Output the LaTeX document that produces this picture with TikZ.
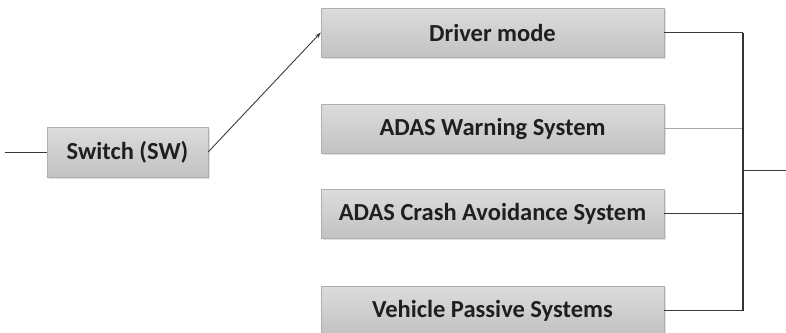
\documentclass[tikz,border=0pt]{standalone}
\usepackage{fontspec}
\setmainfont{Carlito}
\usetikzlibrary{shadows,arrows.meta}
\definecolor{boxtop}{HTML}{DCDCDC}
\definecolor{boxbot}{HTML}{C2C2C2}
\definecolor{linecol}{HTML}{3A3A3A}
\definecolor{lightline}{HTML}{A8A8A8}
\tikzset{
  blk/.style={rectangle, minimum height=49pt, inner sep=0pt, draw=boxbot!90!black, line width=0.3pt,
    top color=boxtop, bottom color=boxbot, font=\bfseries\fontsize{24.5}{27}\selectfont, text=black!88,
    drop shadow={shadow xshift=1.5pt, shadow yshift=-1.5pt, fill=black, opacity=0.12}},
  conn/.style={draw=linecol, line width=0.9pt},
  bus/.style={draw=black!80, line width=1.6pt},
}
\begin{document}
\begin{tikzpicture}[x=1pt,y=-1pt]
\useasboundingbox (0,0) rectangle (786,332);
\begin{scope}
\clip (0,0) rectangle (786,332);
\node[blk, minimum width=161pt, minimum height=50pt] (sw) at (127.5,152) {Switch (SW)};
\node[blk, minimum width=343pt] (dm) at (492.5,32.5) {Driver mode};
\node[blk, minimum width=343pt] (aw) at (492.5,128.5) {ADAS Warning System};
\node[blk, minimum width=343pt] (ac) at (492.5,213.5) {ADAS Crash Avoidance System};
\node[blk, minimum width=343pt] (vp) at (492.5,310.5) {Vehicle Passive Systems};
\coordinate (in) at (5,152);
\coordinate (bt) at (743,32.5);
\coordinate (bb) at (743,310.5);
\coordinate (bo) at (743,170);
\coordinate (out) at (786,170);
\draw[conn] (in) -- (sw.west);
\draw[conn, -{Stealth[length=6pt,width=4pt]}] (sw.east) -- (dm.west);
\draw[conn] (dm.east) -- (bt);
\draw[draw=lightline, line width=0.9pt] (aw.east) -- (aw.east -| bt);
\draw[conn] (ac.east) -- (ac.east -| bt);
\draw[conn] (vp.east) -- (bb);
\draw[bus] (bt) -- (bb);
\draw[conn] (bo) -- (out);
\end{scope}
\end{tikzpicture}
\end{document}
